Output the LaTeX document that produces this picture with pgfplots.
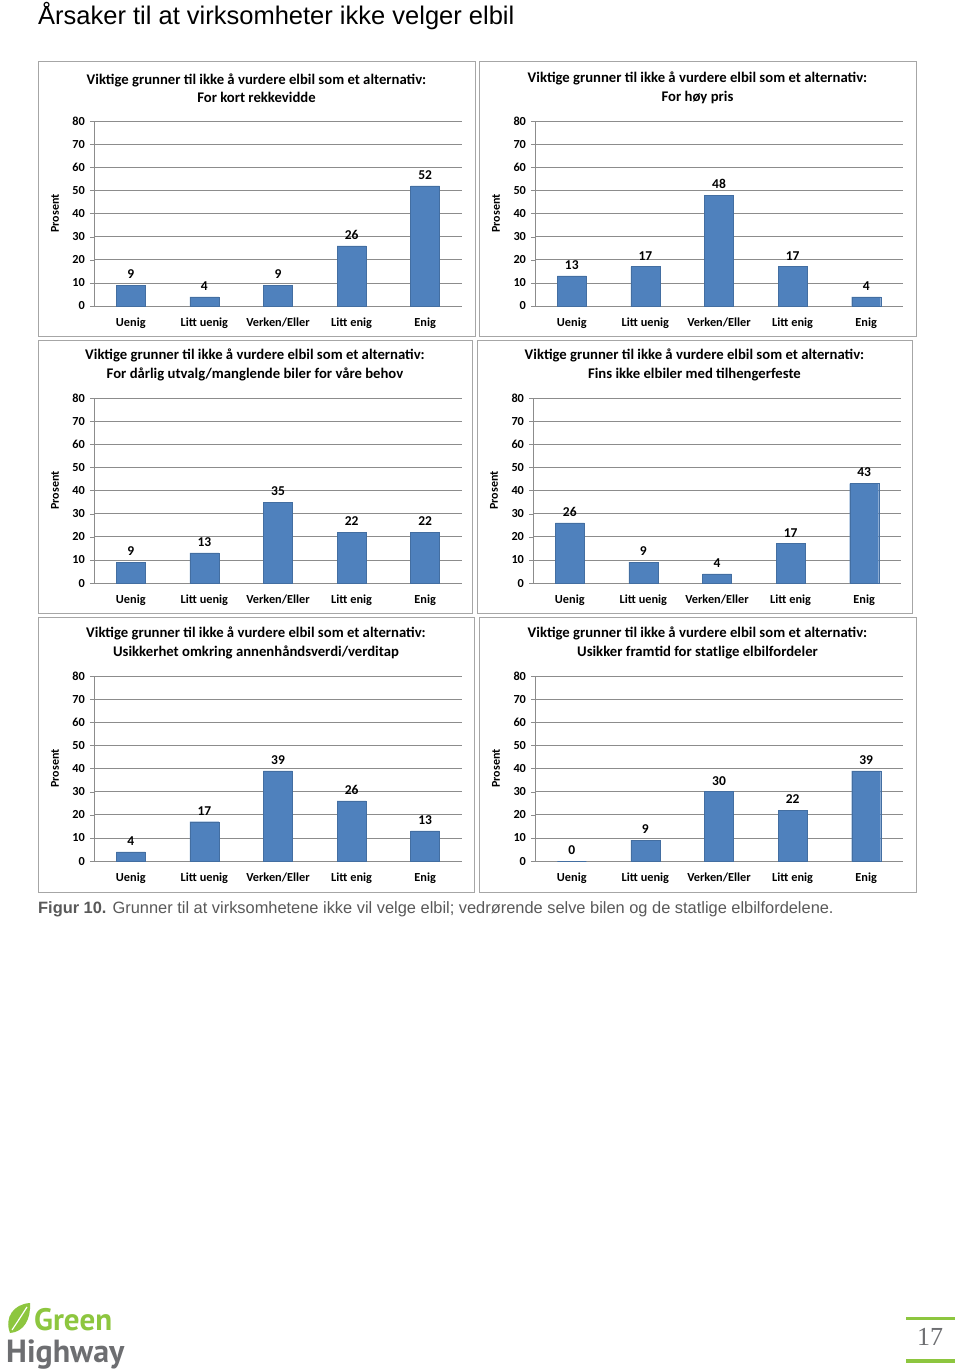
\documentclass[border=0pt]{standalone}
\usepackage{fontspec}
\setmainfont{Carlito}
\newfontfamily\arial{Liberation Sans}
\newfontfamily\logofont{PT Sans}
\newfontfamily\numfont{Liberation Serif}
\usepackage{pgfplots}
\pgfplotsset{compat=1.18}

\definecolor{barblue}{HTML}{4F81BD}
\definecolor{gridgray}{HTML}{8C8C8C}
\definecolor{framegray}{HTML}{A6A6A6}
\definecolor{capgray}{HTML}{595959}
\definecolor{leafgreen}{HTML}{8DC63F}
\definecolor{logogray}{HTML}{6D6E71}

\pgfplotsset{
  likert/.style={
    scale only axis, width=368pt, height=185pt,
    ymin=0, ymax=80, ytick={0,10,...,80},
    xmin=-0.5, xmax=4.5, xtick={0,...,4},
    xticklabels={Uenig,Litt uenig,Verken/Eller,Litt enig,Enig},
    axis x line*=bottom, axis y line*=left,
    axis line style={-, draw=gridgray},
    ymajorgrids, grid style={gridgray, line width=0.6pt},
    tick align=outside, major tick length=4pt,
    ytick style={gridgray}, xtick style={draw=none},
    /pgf/number format/assume math mode=true,
    ticklabel style={font=\bfseries\fontsize{12.3}{14}\selectfont},
    yticklabel style={xshift=-1.5pt},
    xticklabel style={yshift=-4pt},
    ylabel={Prosent},
    ylabel style={at={(axis description cs:-0.106,0.5)}, anchor=center,
      font=\bfseries\fontsize{12}{14}\selectfont},
    ybar, bar width=29pt,
    nodes near coords,
    every node near coord/.append style={font=\bfseries\fontsize{13.5}{15}\selectfont, yshift=3pt},
  }
}

% frame x1, y1, x2, y2, axis left, axis zero line, subtitle, data
\newcommand{\panel}[8]{%
  \draw[framegray, line width=0.8pt] (#1pt,-#2pt) rectangle (#3pt,-#4pt);
  \pgfmathsetmacro\cx{(#1+#3)/2}%
  \pgfmathsetmacro\ty{#6-185-33}%
  \node[align=center, font=\bfseries\fontsize{14.7}{18.5}\selectfont] at (\cx pt,-\ty pt)
    {Viktige grunner til ikke å vurdere elbil som et alternativ:\\#7};
  \begin{axis}[likert, at={(#5pt,-#6pt)}, anchor=south west]
    \addplot[fill=barblue, draw=barblue!85!black] coordinates {#8};
  \end{axis}
}

\begin{document}
\begin{tikzpicture}
\fill[white] (0pt,0pt) rectangle (960pt,-1369pt);
\path[use as bounding box] (0pt,0pt) rectangle (960pt,-1369pt);

\node[anchor=base west, font=\arial\fontsize{25.5}{30}\selectfont, inner sep=0pt]
  at (38pt,-24pt) {Årsaker til at virksomheter ikke velger elbil};

\panel{38}{61}{475}{336}{94}{306}{For kort rekkevidde}
  {(0,9) (1,4) (2,9) (3,26) (4,52)}
\panel{479}{61}{916}{336}{535}{306}{For høy pris}
  {(0,13) (1,17) (2,48) (3,17) (4,4)}
\panel{38}{340}{472}{613}{94}{583}{For dårlig utvalg/manglende biler for våre behov}
  {(0,9) (1,13) (2,35) (3,22) (4,22)}
\panel{477}{340}{912}{613}{533}{583}{Fins ikke elbiler med tilhengerfeste}
  {(0,26) (1,9) (2,4) (3,17) (4,43)}
\panel{38}{617}{474}{892}{94}{861}{Usikkerhet omkring annenhåndsverdi/verditap}
  {(0,4) (1,17) (2,39) (3,26) (4,13)}
\panel{479}{617}{916}{892}{535}{861}{Usikker framtid for statlige elbilfordeler}
  {(0,0) (1,9) (2,30) (3,22) (4,39)}

\node[anchor=base west, inner sep=0pt, text=capgray, font=\arial\fontsize{16.4}{19}\selectfont]
  at (38pt,-913pt) {\textbf{Figur 10.} Grunner til at virksomhetene ikke vil velge elbil; vedrørende selve bilen og de statlige elbilfordelene.};

% logo
\fill[leafgreen] (10pt,-1333pt) .. controls (4pt,-1317pt) and (14pt,-1304pt) .. (30pt,-1303pt)
  .. controls (31pt,-1319pt) and (24pt,-1332pt) .. (10pt,-1333pt) -- cycle;
\draw[white, line width=1.2pt] (12pt,-1330pt) .. controls (18pt,-1321pt) .. (27pt,-1307pt);
\node[anchor=base west, inner sep=0pt, text depth=0pt, text=leafgreen, font=\logofont\bfseries\fontsize{31}{33}\selectfont]
  at (34pt,-1330.5pt) {Green};
\node[anchor=base west, inner sep=0pt, text height=22pt, text=logogray, font=\logofont\bfseries\fontsize{32}{34}\selectfont]
  at (6pt,-1362pt) {Highway};

% page number
\fill[leafgreen] (906pt,-1316.5pt) rectangle (955pt,-1320pt);
\fill[leafgreen] (906pt,-1359pt) rectangle (955pt,-1363pt);
\node[text=logogray, font=\numfont\fontsize{26}{30}\selectfont] at (930pt,-1337pt) {17};
\end{tikzpicture}
\end{document}
